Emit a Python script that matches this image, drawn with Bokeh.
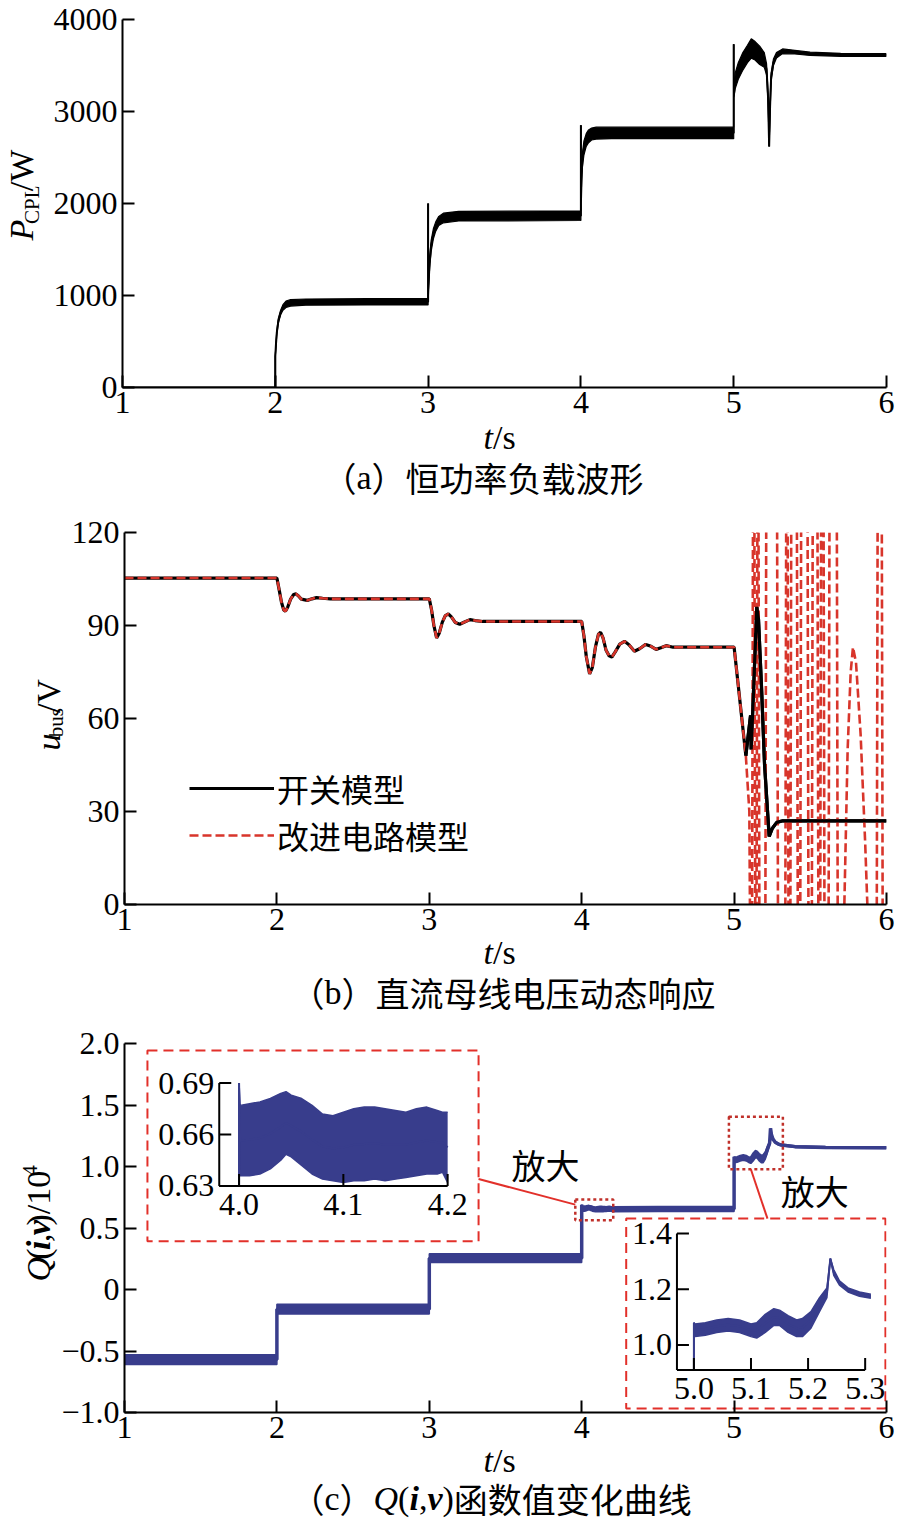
from bokeh.plotting import figure
from bokeh.layouts import column, row
from bokeh.models import Range1d, FixedTicker, Label, Legend, LegendItem, ColumnDataSource
from bokeh.core.properties import value
from bokeh.embed import file_html
from bokeh.resources import INLINE

SERIF = "Liberation Serif"
CJK = "Noto Sans CJK SC"
NAVY = "#383d8c"
RED = "#e2302a"
RED_DASH = "#d8352b"
HALF_PI = 1.5707963267948966

# ---------------- data ----------------
X_TICKS = [1, 2, 3, 4, 5, 6]

# (a) constant power load, envelope of the switching ripple
ta = [1.0, 2.0, 2.0, 2.004, 2.01, 2.02, 2.035, 2.05, 2.07, 2.1, 2.2, 2.6, 3.0,
      3.0, 3.0, 3.005, 3.01, 3.02, 3.035, 3.05, 3.07, 3.1, 3.2, 4.0,
      4.0, 4.0, 4.005, 4.01, 4.02, 4.035, 4.05, 4.07, 4.1, 4.2, 5.0,
      5.0, 5.0, 5.01, 5.03, 5.06, 5.09, 5.115, 5.14, 5.17, 5.2, 5.215, 5.225,
      5.232, 5.238, 5.245, 5.26, 5.28, 5.32, 5.4, 5.5, 5.7, 6.0]
pa_lo = [0, 0, 340, 450, 580, 700, 790, 840, 870, 885, 895, 898, 898,
         2000, 1000, 1150, 1300, 1480, 1620, 1700, 1760, 1790, 1810, 1815,
         2850, 2000, 2250, 2400, 2530, 2620, 2660, 2690, 2700, 2705, 2705,
         3730, 3150, 3250, 3350, 3450, 3530, 3580, 3560, 3510, 3480, 3400, 3100,
         2620, 3000, 3330, 3500, 3580, 3630, 3625, 3610, 3600, 3598]
pa_hi = [0, 0, 340, 470, 620, 750, 840, 900, 940, 955, 962, 965, 965,
         2000, 1000, 1250, 1420, 1600, 1730, 1800, 1860, 1895, 1915, 1920,
         2850, 2000, 2400, 2550, 2680, 2760, 2800, 2820, 2830, 2830, 2830,
         3730, 3150, 3420, 3530, 3640, 3720, 3790, 3760, 3710, 3640, 3520, 3200,
         2620, 3100, 3420, 3570, 3640, 3680, 3665, 3645, 3632, 3628]
YA_TICKS = [0, 1000, 2000, 3000, 4000]

# (b) bus voltage: switching model
tb_switch = [1.0, 2.0, 2.015, 2.03, 2.045, 2.056, 2.07, 2.09, 2.11, 2.125, 2.14, 2.16, 2.2, 2.23, 2.26, 2.3, 2.35, 3.0,
             3.015, 3.03, 3.048, 3.065, 3.085, 3.105, 3.125, 3.145, 3.17, 3.2, 3.235, 3.267, 3.3, 3.35, 4.0,
             4.015, 4.03, 4.052, 4.07, 4.09, 4.11, 4.124, 4.14, 4.16, 4.18, 4.198, 4.22, 4.25, 4.281, 4.31,
             4.346, 4.38, 4.42, 4.455, 4.488, 4.52, 4.554, 4.6, 5.0,
             5.077, 5.108, 5.112, 5.13, 5.149, 5.16, 5.18, 5.2, 5.23, 5.25, 5.28, 5.32, 6.0]
ub_switch = [105.3, 105.3, 101.5, 97.5, 95.0, 94.6, 95.8, 98.5, 100.0, 100.2, 99.6, 98.5, 98.1, 98.6, 99.0, 98.8, 98.6, 98.6,
             95.0, 90.0, 86.0, 87.5, 91.0, 93.2, 93.7, 92.8, 91.0, 90.4, 91.2, 91.9, 91.6, 91.3, 91.3,
             86.5, 80.0, 74.4, 76.5, 83.0, 87.2, 87.8, 86.0, 82.0, 80.2, 79.8, 81.5, 84.0, 84.9, 83.8,
             81.7, 82.5, 83.9, 83.3, 82.3, 82.8, 83.5, 83.0, 83.0,
             48.0, 61.0, 50.0, 72.0, 96.0, 92.0, 70.0, 45.0, 22.0, 24.5, 26.5, 27.0, 27.0]
# (b) bus voltage: improved circuit model (diverges after t = 5 s)
tb_model = [1.0, 2.0, 2.015, 2.03, 2.045, 2.056, 2.07, 2.09, 2.11, 2.125, 2.14, 2.16, 2.2, 2.23, 2.26, 2.3, 2.35, 3.0,
            3.015, 3.03, 3.048, 3.065, 3.085, 3.105, 3.125, 3.145, 3.17, 3.2, 3.235, 3.267, 3.3, 3.35, 4.0,
            4.015, 4.03, 4.052, 4.07, 4.09, 4.11, 4.124, 4.14, 4.16, 4.18, 4.198, 4.22, 4.25, 4.281, 4.31,
            4.346, 4.38, 4.42, 4.455, 4.488, 4.52, 4.554, 4.6, 5.0,
            5.077, 5.1, 5.105, 5.118, 5.124, 5.133, 5.139, 5.147, 5.153, 5.16, 5.166,
            5.205, 5.211, 5.282, 5.288, 5.336, 5.342, 5.351,
            5.357, 5.369, 5.375, 5.412, 5.418, 5.434, 5.44, 5.482, 5.488, 5.51, 5.516, 5.547, 5.553, 5.565,
            5.571, 5.587, 5.593, 5.62, 5.626, 5.674, 5.68, 5.72, 5.745, 5.765, 5.78, 5.8, 5.83, 5.86, 5.88,
            5.936, 5.942, 5.969, 5.975, 6.0]
ub_model = [105.3, 105.3, 101.5, 97.5, 95.0, 94.6, 95.8, 98.5, 100.0, 100.2, 99.6, 98.5, 98.1, 98.6, 99.0, 98.8, 98.6, 98.6,
            95.0, 90.0, 86.0, 87.5, 91.0, 93.2, 93.7, 92.8, 91.0, 90.4, 91.2, 91.9, 91.6, 91.3, 91.3,
            86.5, 80.0, 74.4, 76.5, 83.0, 87.2, 87.8, 86.0, 82.0, 80.2, 79.8, 81.5, 84.0, 84.9, 83.8,
            81.7, 82.5, 83.9, 83.3, 82.3, 82.8, 83.5, 83.0, 83.0,
            48, 30, -8, -8, 128, 128, -8, -8, 128, 128, -8,
            -8, 128, 128, -8, -8, 128, 128,
            -8, -8, 128, 128, -8, -8, 128, 128, -8, -8, 128, 128, -8, -8,
            128, 128, -8, -8, 128, 128, -8, -8, 50, 75, 83, 78, 55, 20, -8,
            -8, 128, 128, -8, -8]
YB_TICKS = [0, 30, 60, 90, 120]

# (c) Q(i,v)/1e4, envelope of ripple
tc = [1.0, 2.0, 2.0, 3.0, 3.0, 4.0, 4.0, 4.0, 4.001, 4.01, 4.02, 4.03, 4.04, 4.045, 4.05, 4.06, 4.07,
      4.08, 4.09, 4.1, 4.11, 4.12, 4.13, 4.14, 4.15, 4.16, 4.17, 4.18, 4.19, 4.195, 4.2, 4.5, 5.0,
      5.0, 5.0, 5.002, 5.02, 5.04, 5.06, 5.08, 5.1, 5.11, 5.125, 5.14, 5.15, 5.165, 5.18, 5.19, 5.205,
      5.22, 5.233, 5.239, 5.245, 5.255, 5.27, 5.29, 5.31, 5.4, 5.6, 6.0]
qc_lo = [-0.61, -0.61, -0.20, -0.20, 0.22, 0.22, 0.63, 0.69, 0.636, 0.636, 0.637, 0.640, 0.645, 0.6485, 0.647, 0.642, 0.637,
         0.634, 0.633, 0.632, 0.633, 0.633, 0.634, 0.633, 0.634, 0.635, 0.636, 0.637, 0.637, 0.638, 0.632, 0.634, 0.634,
         0.91, 1.08, 1.03, 1.035, 1.045, 1.05, 1.045, 1.03, 1.025, 1.045, 1.07, 1.07, 1.045, 1.03, 1.03, 1.06,
         1.12, 1.17, 1.31, 1.25, 1.215, 1.19, 1.175, 1.168, 1.155, 1.148, 1.146]
qc_hi = [-0.53, -0.53, -0.12, -0.12, 0.29, 0.29, 0.63, 0.69, 0.677, 0.678, 0.679, 0.681, 0.684, 0.685, 0.683, 0.681, 0.677,
         0.672, 0.671, 0.673, 0.675, 0.676, 0.676, 0.675, 0.674, 0.673, 0.675, 0.676, 0.674, 0.673, 0.673, 0.675, 0.675,
         0.91, 1.08, 1.075, 1.08, 1.09, 1.095, 1.09, 1.075, 1.08, 1.11, 1.13, 1.125, 1.105, 1.09, 1.095, 1.12,
         1.17, 1.205, 1.31, 1.27, 1.23, 1.205, 1.19, 1.182, 1.168, 1.162, 1.16]
YC_TICKS = [-1, -0.5, 0, 0.5, 1, 1.5, 2]
YC_LABELS = ["\u22121.0", "\u22120.5", "0", "0.5", "1.0", "1.5", "2.0"]

INSET1_XTICKS = [4.0, 4.1, 4.2]
INSET1_XLABELS = ["4.0", "4.1", "4.2"]
INSET1_YTICKS = [0.63, 0.66, 0.69]
INSET1_YLABELS = ["0.63", "0.66", "0.69"]
INSET2_XTICKS = [5.0, 5.1, 5.2, 5.3]
INSET2_XLABELS = ["5.0", "5.1", "5.2", "5.3"]
INSET2_YTICKS = [1.0, 1.2, 1.4]
INSET2_YLABELS = ["1.0", "1.2", "1.4"]

# ---------------- helpers ----------------
TOTAL_W = 896
K_MID = 0.34    # distance from box middle to alphabetic baseline, in em
OVERLAP = 14    # caption strips slide up under the (transparent) axis margin


def make_fig(w, h, left, top, bottom, yr, yticks):
    p = figure(width=w, height=h, x_range=Range1d(1, 6), y_range=yr,
               output_backend="svg", toolbar_location=None,
               min_border_left=left, min_border_right=10,
               min_border_top=top, min_border_bottom=bottom)
    p.xgrid.visible = False
    p.ygrid.visible = False
    p.outline_line_color = None
    p.background_fill_color = "white"
    p.border_fill_color = "white"
    for ax in (p.xaxis[0], p.yaxis[0]):
        ax.axis_line_width = 2
        ax.axis_line_color = "black"
        ax.major_tick_line_width = 2
        ax.major_tick_line_color = "black"
        ax.major_tick_in = 12
        ax.major_tick_out = 0
        ax.minor_tick_line_color = None
        ax.major_label_text_font = SERIF
        ax.major_label_text_font_size = "32px"
        ax.major_label_text_color = "black"
    p.xaxis[0].ticker = FixedTicker(ticks=X_TICKS)
    p.yaxis[0].ticker = FixedTicker(ticks=yticks)
    p.xaxis[0].major_label_standoff = 4
    p.yaxis[0].major_label_standoff = 5
    return p


class TextPanel:
    """A frame-only figure used to hold titles; positions given in page pixels."""

    def __init__(self, w, h, left, top, overlap=0):
        f = figure(width=w, height=h, x_range=Range1d(0, w), y_range=Range1d(0, h),
                   output_backend="svg", toolbar_location=None,
                   x_axis_location=None, y_axis_location=None,
                   min_border_left=0, min_border_right=0, min_border_top=0, min_border_bottom=0)
        f.outline_line_color = None
        f.xgrid.visible = False
        f.ygrid.visible = False
        f.background_fill_color = None
        f.border_fill_color = None
        if overlap:
            f.margin = (-overlap, 0, 0, 0)
        self.f, self.left, self.top, self.h = f, left, top - overlap, h

    def pieces(self, x, y, items, rotate=False):
        """(x, y) = start of the baseline in page px.
        items: (text, font, style, size_px, advance_px, baseline_shift_down_px)"""
        adv = 0.0
        for text, font, style, size, width, shift in items:
            if rotate:
                px = x + shift - K_MID * size
                py = y - (adv + width / 2)
                align, ang = "center", HALF_PI
            else:
                px = x + adv
                py = y + shift - K_MID * size
                align, ang = "left", 0.0
            self.f.text(x=[px - self.left], y=[self.top + self.h - py], text=[text],
                        angle=ang, text_font=value(font), text_font_style=style,
                        text_font_size=value(f"{size}px"),
                        text_align=align, text_baseline="middle", text_color="black")
            adv += width


def t_over_s(panel, baseline):
    panel.pieces(483, baseline, [("t", SERIF, "italic", 34, 9.5, 0),
                                 ("/s", SERIF, "normal", 34, 22.7, 0)])


# ---------------- (a) ----------------
HA = 429
ya_title = TextPanel(46, HA, 0, 0)
pa = make_fig(TOTAL_W - 46, HA, 76, 19, 42, Range1d(0, 4000), YA_TICKS)
src_a = ColumnDataSource(dict(t=ta, lo=pa_lo, hi=pa_hi,
                              mid=[(a + b) / 2 for a, b in zip(pa_lo, pa_hi)]))
pa.varea(x="t", y1="lo", y2="hi", source=src_a, fill_color="black")
pa.line("t", "lo", source=src_a, line_color="black", line_width=1.2)
pa.line("t", "hi", source=src_a, line_color="black", line_width=1.2)
pa.line("t", "mid", source=src_a, line_color="black", line_width=2)
ya_title.pieces(33, 256, [("P", SERIF, "italic", 34, 20.8, 0),
                          ("CPL", SERIF, "normal", 21, 38.5, 6),
                          ("/W", SERIF, "normal", 34, 41.5, 0)], rotate=True)
cap_a = TextPanel(TOTAL_W, 74 + OVERLAP, 0, HA, OVERLAP)
t_over_s(cap_a, 449)
cap_a.pieces(322, 489, [("（", CJK, "normal", 34, 34, 0),
                        ("a", SERIF, "normal", 34, 15.1, 0),
                        ("）恒功率负载波形", CJK, "normal", 34, 272, 0)])

# ---------------- (b) ----------------
TOP_B = HA + 74
HB = 443
yb_title = TextPanel(68, HB, 0, TOP_B)
pb = make_fig(TOTAL_W - 68, HB, 54, 29, 42, Range1d(0, 120), YB_TICKS)
src_sw = ColumnDataSource(dict(t=tb_switch, u=ub_switch))
src_md = ColumnDataSource(dict(t=tb_model, u=ub_model))
src_sw_tail = ColumnDataSource(dict(t=tb_switch[57:], u=ub_switch[57:]))
r_sw = pb.line("t", "u", source=src_sw, line_color="black", line_width=3.2)
r_md = pb.line("t", "u", source=src_md, line_color=RED_DASH, line_width=2.6, line_dash="9 4")
pb.line("t", "u", source=src_sw_tail, line_color="black", line_width=3.2)
for lbl, rend, loc in (("开关模型", r_sw, (65, 93)), ("改进电路模型", r_md, (65, 46))):
    pb.add_layout(Legend(items=[LegendItem(label=lbl, renderers=[rend])],
                         location=loc, orientation="vertical",
                         label_text_font=CJK, label_text_font_size="32px",
                         label_text_color="black", glyph_width=85, glyph_height=30,
                         label_height=30, padding=0, margin=0, label_standoff=3,
                         border_line_color=None, background_fill_alpha=0))
yb_title.pieces(60, 761, [("u", SERIF, "italic", 34, 17, 0),
                          ("bus", SERIF, "normal", 21, 29.2, 3),
                          ("/V", SERIF, "normal", 34, 34, 0)], rotate=True)
cap_b = TextPanel(TOTAL_W, 72 + OVERLAP, 0, TOP_B + HB, OVERLAP)
t_over_s(cap_b, 964)
cap_b.pieces(290, 1004, [("（", CJK, "normal", 34, 34, 0),
                         ("b", SERIF, "normal", 34, 17, 0),
                         ("）直流母线电压动态响应", CJK, "normal", 34, 374, 0)])

# ---------------- (c) ----------------
TOP_C = TOP_B + HB + 72
HC = 436
yc_title = TextPanel(58, HC, 0, TOP_C)
pc = make_fig(TOTAL_W - 58, HC, 64, 25, 42, Range1d(-1, 2), YC_TICKS)
pc.yaxis[0].major_label_overrides = {k: v for k, v in zip(YC_TICKS, YC_LABELS)}
mid_c = [(a + b) / 2 for a, b in zip(qc_lo, qc_hi)]
src_c = ColumnDataSource(dict(t=tc, lo=qc_lo, hi=qc_hi, mid=mid_c))
pc.varea(x="t", y1="lo", y2="hi", source=src_c, fill_color=NAVY)
pc.line("t", "lo", source=src_c, line_color=NAVY, line_width=1.5)
pc.line("t", "hi", source=src_c, line_color=NAVY, line_width=1.5)
pc.line("t", "mid", source=src_c, line_color=NAVY, line_width=3.5)

# zoom markers (dotted) and inset frames (dashed), in main data coordinates
pc.quad(left=[3.958, 4.966], right=[4.207, 5.32], bottom=[0.563, 0.978], top=[0.731, 1.405],
        fill_color=None, line_color="#c0302a", line_width=2.5, line_dash="3 3")
pc.quad(left=[1.1505, 4.292], right=[3.3233, 5.993], bottom=[0.3914, -0.968], top=[1.9437, 0.5764],
        fill_color=None, line_color=RED, line_width=2, line_dash="10 6")
pc.segment(x0=[3.3233, 5.11], y0=[0.898, 0.978], x1=[3.958, 5.219], y1=[0.69, 0.5764],
           line_color=RED, line_width=2)
pc.add_layout(Label(x=3.539, y=1.0187, text="放大", text_font=CJK, text_font_size="34px",
                    text_align="left", text_baseline="middle", text_color="black"))
pc.add_layout(Label(x=5.306, y=0.8016, text="放大", text_font=CJK, text_font_size="34px",
                    text_align="left", text_baseline="middle", text_color="black"))


def inset(i0, i1, xs, ys, xt, yt, xticks, xlabels, yticks, ylabels):
    sub = pc.subplot(x_source=Range1d(*xs), y_source=Range1d(*ys),
                     x_target=Range1d(*xt), y_target=Range1d(*yt))
    s = ColumnDataSource(dict(t=tc[i0:i1], lo=qc_lo[i0:i1], hi=qc_hi[i0:i1], mid=mid_c[i0:i1]))
    sub.varea(x="t", y1="lo", y2="hi", source=s, fill_color=NAVY)
    sub.line("t", "lo", source=s, line_color=NAVY, line_width=1.5)
    sub.line("t", "hi", source=s, line_color=NAVY, line_width=1.5)
    sub.line("t", "mid", source=s, line_color=NAVY, line_width=2)
    sub.segment(x0=[xs[0], xs[0]], y0=[ys[0], ys[0]], x1=[xs[0], xs[1]], y1=[ys[1], ys[0]],
                line_color="black", line_width=2)
    sub.ray(x=[xs[0]] * len(yticks), y=yticks, length=12, length_units="screen", angle=0,
            line_color="black", line_width=2)
    sub.ray(x=xticks, y=[ys[0]] * len(xticks), length=12, length_units="screen",
            angle=HALF_PI, line_color="black", line_width=2)
    sub.text(x=[xs[0]] * len(yticks), y=yticks, text=ylabels, x_offset=-5,
             text_align="right", text_baseline="middle",
             text_font=value(SERIF), text_font_size=value("32px"), text_color="black")
    sub.text(x=xticks, y=[ys[0]] * len(xticks), text=xlabels, y_offset=8,
             text_align="center", text_baseline="top",
             text_font=value(SERIF), text_font_size=value("32px"), text_color="black")


inset(6, 31, (3.981, 4.2), (0.63, 0.69), (1.6217, 3.1204), (0.8415, 1.6782),
      INSET1_XTICKS, INSET1_XLABELS, INSET1_YTICKS, INSET1_YLABELS)
inset(33, 57, (4.9703, 5.3), (0.91, 1.4), (4.625, 5.86), (-0.655, 0.4553),
      INSET2_XTICKS, INSET2_XLABELS, INSET2_YTICKS, INSET2_YLABELS)

yc_title.pieces(50, 1297, [("Q", SERIF, "italic", 34, 24.5, 0),
                           ("(", SERIF, "normal", 34, 11.3, 0),
                           ("i", SERIF, "bold italic", 34, 9.5, 0),
                           (",", SERIF, "normal", 34, 8.5, 0),
                           ("v", SERIF, "bold italic", 34, 15.1, 0),
                           (")/10", SERIF, "normal", 34, 54.8, 0),
                           ("4", SERIF, "normal", 21, 10.5, -13)], rotate=True)
cap_c = TextPanel(TOTAL_W, 70 + OVERLAP, 0, TOP_C + HC, OVERLAP)
t_over_s(cap_c, 1472)
cap_c.pieces(290, 1510, [("（", CJK, "normal", 34, 34, 0),
                         ("c", SERIF, "normal", 34, 15.1, 0),
                         ("）", CJK, "normal", 34, 34, 0),
                         ("Q", SERIF, "italic", 34, 24.5, 0),
                         ("(", SERIF, "normal", 34, 11.3, 0),
                         ("i", SERIF, "bold italic", 34, 9.5, 0),
                         (",", SERIF, "normal", 34, 8.5, 0),
                         ("v", SERIF, "bold italic", 34, 15.1, 0),
                         (")", SERIF, "normal", 34, 11.3, 0),
                         ("函数值变化曲线", CJK, "normal", 34, 238, 0)])

layout = column(row(ya_title.f, pa), cap_a.f,
                row(yb_title.f, pb), cap_b.f,
                row(yc_title.f, pc), cap_c.f)
open("out.html", "w").write(file_html(layout, INLINE))
